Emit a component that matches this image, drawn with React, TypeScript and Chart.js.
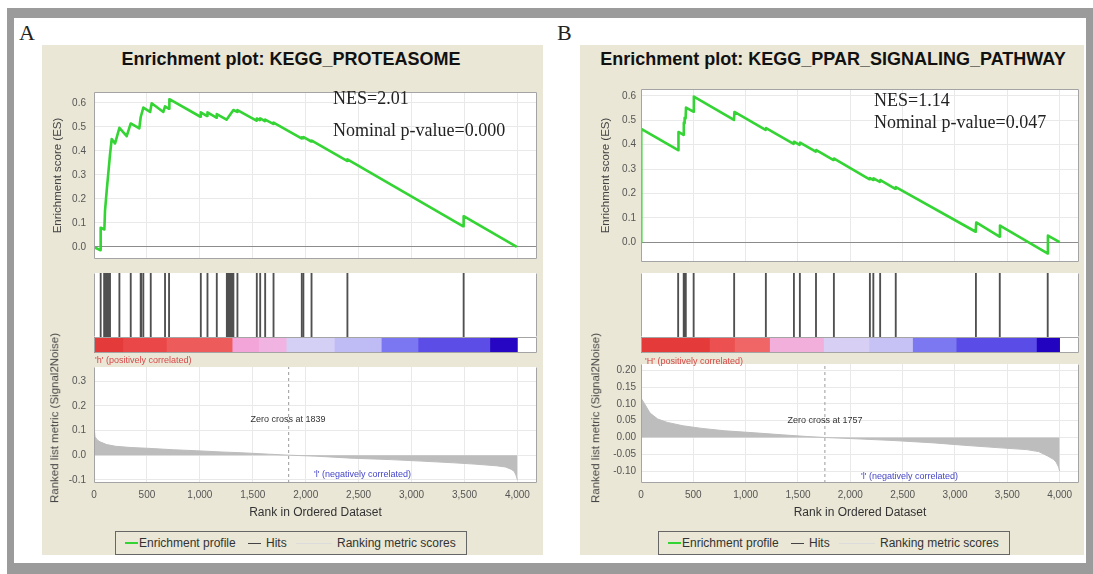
import { useEffect, useRef } from 'react';
import { Chart, registerables } from 'chart.js';

Chart.register(...registerables);

// ---------- shared axis values ----------
const RANK_MAX = 4185;
const RANK_TICKS = [0, 500, 1000, 1500, 2000, 2500, 3000, 3500, 4000];
const ES_TICKS = [0, 0.1, 0.2, 0.3, 0.4, 0.5, 0.6];

// ---------- A: KEGG_PROTEASOME ----------
const TITLE_A = 'Enrichment plot: KEGG_PROTEASOME';
const NES_A = '2.01';
const PVAL_A = '0.000';
const ZERO_CROSS_A = 1839;
const POS_LABEL_A = "'h' (positively correlated)";
const NEG_LABEL_A = "'l' (negatively correlated)";
const ES_A: [number, number][] = [
  [0, 0.0], [57, -0.013], [63, 0.08], [98, 0.073], [104, 0.15], [120, 0.235], [135, 0.306],
  [151, 0.383], [167, 0.449], [199, 0.431], [240, 0.496], [309, 0.461], [347, 0.514],
  [428, 0.494], [441, 0.54], [466, 0.58], [530, 0.562], [545, 0.598], [655, 0.562],
  [671, 0.585], [709, 0.575], [712, 0.615], [1005, 0.542], [1009, 0.56], [1068, 0.545],
  [1072, 0.56], [1156, 0.538], [1160, 0.553], [1252, 0.53], [1317, 0.57], [1352, 0.562],
  [1355, 0.57], [1535, 0.526], [1538, 0.535], [1567, 0.528], [1570, 0.535], [1614, 0.524],
  [1617, 0.53], [1693, 0.512], [1696, 0.518], [1960, 0.452], [1963, 0.456], [1977, 0.453],
  [1980, 0.457], [2053, 0.439], [2057, 0.443], [2391, 0.358], [2394, 0.365], [3488, 0.086],
  [3492, 0.128], [3994, 0.0],
];
const HITS_A = [
  63, 96, 102, 106, 110, 114, 118, 122, 126, 131, 136, 141, 146, 151, 240, 347, 441, 446, 466,
  536, 671, 709, 1009, 1072, 1160, 1255, 1262, 1270, 1278, 1286, 1294, 1302, 1310, 1317, 1355,
  1538, 1570, 1617, 1696, 1963, 1978, 2055, 2394, 3492,
];
const METRIC_A: [number, number][] = [
  [0, 0.139], [4, 0.1], [10, 0.075], [30, 0.062], [57, 0.054], [120, 0.043], [205, 0.036],
  [350, 0.031], [504, 0.028], [750, 0.022], [968, 0.018], [1200, 0.013], [1433, 0.009],
  [1650, 0.004], [1839, 0.0], [2096, -0.004], [2428, -0.012], [2800, -0.018], [3091, -0.024],
  [3400, -0.031], [3589, -0.036], [3800, -0.043], [3887, -0.048], [3940, -0.057], [3970, -0.066],
  [3987, -0.082], [4000, -0.1],
];
const METRIC_TICKS_A = [-0.1, 0, 0.1, 0.2, 0.3];
const BAND_A: [number, number, string][] = [
  [0, 280, '#e43a3a'], [280, 690, '#ea4848'], [690, 1311, '#ee5b5b'], [1311, 1560, '#f3a4d8'],
  [1560, 1822, '#f1b4e2'], [1822, 2277, '#d3cff5'], [2277, 2720, '#bfbbf5'], [2720, 3067, '#7b77f2'],
  [3067, 3745, '#5b4de6'], [3745, 4000, '#2606c2'],
];

// ---------- B: KEGG_PPAR_SIGNALING_PATHWAY ----------
const TITLE_B = 'Enrichment plot: KEGG_PPAR_SIGNALING_PATHWAY';
const NES_B = '1.14';
const PVAL_B = '0.047';
const ZERO_CROSS_B = 1757;
const POS_LABEL_B = "'H' (positively correlated)";
const NEG_LABEL_B = "'l' (negatively correlated)";
const ES_B: [number, number][] = [
  [0, 0.0], [2, 0.465], [355, 0.377], [358, 0.452], [406, 0.44], [409, 0.49], [414, 0.488],
  [417, 0.51], [426, 0.507], [430, 0.552], [500, 0.535], [505, 0.597], [888, 0.501],
  [893, 0.534], [1190, 0.46], [1195, 0.468], [1458, 0.403], [1462, 0.412], [1515, 0.399],
  [1520, 0.408], [1670, 0.371], [1675, 0.378], [1840, 0.337], [1845, 0.343], [2184, 0.258],
  [2188, 0.263], [2218, 0.255], [2222, 0.262], [2282, 0.247], [2287, 0.255], [2430, 0.219],
  [2435, 0.226], [3198, 0.043], [3203, 0.081], [3425, 0.023], [3430, 0.068], [3884, -0.046],
  [3888, 0.027], [4000, 0.0],
];
const HITS_B = [
  355, 408, 414, 428, 503, 890, 1193, 1461, 1518, 1672, 1843, 2187, 2220, 2285, 2434, 3200,
  3428, 3886,
];
const METRIC_B: [number, number][] = [
  [0, 0.145], [5, 0.115], [35, 0.1], [86, 0.073], [160, 0.055], [252, 0.045], [400, 0.035],
  [585, 0.027], [800, 0.02], [1085, 0.014], [1350, 0.008], [1585, 0.003], [1757, 0.0],
  [2000, -0.003], [2418, -0.009], [2800, -0.016], [3085, -0.023], [3400, -0.03], [3685, -0.036],
  [3800, -0.042], [3885, -0.055], [3940, -0.065], [3966, -0.073], [3990, -0.088], [4000, -0.1],
];
const METRIC_TICKS_B = [-0.1, -0.05, 0, 0.05, 0.1, 0.15, 0.2];
const BAND_B: [number, number, string][] = [
  [0, 660, '#e43a3a'], [660, 900, '#ec5050'], [900, 1235, '#f06666'], [1235, 1751, '#f3afdc'],
  [1751, 2185, '#d8cff4'], [2185, 2601, '#c6c2f6'], [2601, 3018, '#7b78f2'], [3018, 3785, '#5a4ce6'],
  [3785, 4000, '#2204c0'],
];

// ---------- styling ----------
const GREEN = '#33d433';
const GRID = '#e9e9e9';
const BEIGE = '#eae7d6';
const SANS = "'Liberation Sans', Arial, sans-serif";
const SERIF = "'Liberation Serif', 'Times New Roman', serif";
const tickFont = { font: { family: SANS, size: 10 }, color: '#555' };
const axisTitleFont = { family: SANS, size: 11.5 };

const setTicks = (vals: number[]) => (scale: any) => {
  scale.ticks = vals.map((v) => ({ value: v }));
};

// white plot background + thin grey frame on chosen sides
const plotFrame = {
  id: 'plotFrame',
  beforeDraw(chart: any) {
    const { ctx, chartArea: a } = chart;
    ctx.save();
    ctx.fillStyle = '#ffffff';
    ctx.fillRect(a.left, a.top, a.right - a.left, a.bottom - a.top);
    ctx.restore();
  },
  afterDraw(chart: any, _args: any, opts: any) {
    const { ctx, chartArea: a } = chart;
    const sides: string = (opts && opts.sides) || 'tblr';
    const l = Math.round(a.left) + 0.5;
    const r = Math.round(a.right) - 0.5;
    const t = Math.round(a.top) + 0.5;
    const b = Math.round(a.bottom) - 0.5;
    ctx.save();
    ctx.strokeStyle = '#a4a4a4';
    ctx.lineWidth = 1;
    ctx.beginPath();
    if (sides.includes('t')) { ctx.moveTo(l, t); ctx.lineTo(r, t); }
    if (sides.includes('b')) { ctx.moveTo(l, b); ctx.lineTo(r, b); }
    if (sides.includes('l')) { ctx.moveTo(l, t); ctx.lineTo(l, b); }
    if (sides.includes('r')) { ctx.moveTo(r, t); ctx.lineTo(r, b); }
    ctx.stroke();
    ctx.restore();
  },
};

const baseOptions = {
  animation: false,
  responsive: false,
  events: [],
  layout: { padding: 0 },
};

type Panel = {
  frameLeft: number;
  axisWidth: number;
  plotWidth: number;
  tickPad: number;
  esTitlePad: number;
  es: [number, number][];
  esMin: number;
  esMax: number;
  hits: number[];
  band: [number, number, string][];
  metric: [number, number][];
  metricTicks: number[];
  metricMin: number;
  metricMax: number;
  metricDecimals: number;
  zeroCross: number;
};

function esConfig(p: Panel): any {
  return {
    type: 'line',
    data: {
      datasets: [{
        data: p.es.map(([x, y]) => ({ x, y })),
        borderColor: GREEN, borderWidth: 2.6, pointRadius: 0, tension: 0, fill: false,
        borderJoinStyle: 'round',
      }],
    },
    options: {
      ...baseOptions,
      plugins: { legend: { display: false }, tooltip: { enabled: false }, plotFrame: { sides: 'tblr' } },
      scales: {
        x: {
          type: 'linear', min: 0, max: RANK_MAX, afterBuildTicks: setTicks(RANK_TICKS),
          ticks: { display: false }, grid: { color: GRID, drawTicks: false }, border: { display: false },
          afterFit: (s: any) => { s.height = 0; },
        },
        y: {
          type: 'linear', min: p.esMin, max: p.esMax, afterBuildTicks: setTicks(ES_TICKS),
          ticks: { ...tickFont, padding: p.tickPad, callback: (v: any) => Number(v).toFixed(1) },
          grid: { color: (c: any) => (c.tick && c.tick.value === 0 ? '#8c8c8c' : GRID), drawTicks: false },
          border: { display: false },
          title: { display: true, text: 'Enrichment score (ES)', font: axisTitleFont, color: '#444', padding: { top: p.esTitlePad, bottom: 0 } },
          afterFit: (s: any) => { s.width = p.axisWidth; },
        },
      },
    },
    plugins: [plotFrame],
  };
}

function hitsConfig(p: Panel): any {
  return {
    type: 'bar',
    data: {
      datasets: [{
        data: p.hits.map((x) => ({ x, y: 1 })),
        backgroundColor: '#505050', barThickness: 1.2, grouped: false,
      }],
    },
    options: {
      ...baseOptions,
      layout: { padding: { left: p.axisWidth } },
      plugins: { legend: { display: false }, tooltip: { enabled: false }, plotFrame: { sides: 'lr' } },
      scales: {
        x: { type: 'linear', min: 0, max: RANK_MAX, offset: false, display: false },
        y: { type: 'linear', min: 0, max: 1, display: false },
      },
    },
    plugins: [plotFrame],
  };
}

function bandConfig(p: Panel): any {
  return {
    type: 'bar',
    data: {
      labels: ['rank'],
      datasets: [{
        data: p.band.map(([from, to]) => ({ x: [from, to], y: 'rank' })),
        backgroundColor: p.band.map(([, , c]) => c),
        barPercentage: 1, categoryPercentage: 1, grouped: false, borderWidth: 0,
      }],
    },
    options: {
      ...baseOptions,
      indexAxis: 'y',
      layout: { padding: { left: p.axisWidth } },
      plugins: { legend: { display: false }, tooltip: { enabled: false }, plotFrame: { sides: 'tblr' } },
      scales: {
        x: { type: 'linear', min: 0, max: RANK_MAX, display: false },
        y: { type: 'category', display: false },
      },
    },
    plugins: [plotFrame],
  };
}

function metricConfig(p: Panel): any {
  return {
    type: 'line',
    data: {
      datasets: [
        {
          data: p.metric.map(([x, y]) => ({ x, y })),
          fill: 'origin', backgroundColor: '#bdbdbd', borderColor: '#bdbdbd', borderWidth: 1,
          pointRadius: 0, tension: 0,
        },
        {
          data: [{ x: p.zeroCross, y: p.metricMin }, { x: p.zeroCross, y: p.metricMax }],
          borderColor: '#9a9a9a', borderWidth: 1, borderDash: [3, 3], pointRadius: 0, fill: false,
        },
      ],
    },
    options: {
      ...baseOptions,
      plugins: { legend: { display: false }, tooltip: { enabled: false }, plotFrame: { sides: 'blr' } },
      scales: {
        x: {
          type: 'linear', min: 0, max: RANK_MAX, afterBuildTicks: setTicks(RANK_TICKS),
          ticks: { ...tickFont, padding: 6, maxRotation: 0, callback: (v: any) => Number(v).toLocaleString('en-US') },
          grid: { color: GRID, drawTicks: false }, border: { display: false },
          title: { display: true, text: 'Rank in Ordered Dataset', font: { family: SANS, size: 12 }, color: '#333', padding: { top: 0, bottom: 3 } },
          afterFit: (s: any) => { s.height = 40; },
        },
        y: {
          type: 'linear', min: p.metricMin, max: p.metricMax, afterBuildTicks: setTicks(p.metricTicks),
          ticks: { ...tickFont, padding: p.tickPad, callback: (v: any) => Number(v).toFixed(p.metricDecimals) },
          grid: { color: GRID, drawTicks: false }, border: { display: false },
          afterFit: (s: any) => { s.width = p.axisWidth; },
        },
      },
    },
    plugins: [plotFrame],
  };
}

type Box = { left: number; top: number; width: number; height: number };

function ChartCanvas({ box, build }: { box: Box; build: () => any }) {
  const ref = useRef<HTMLCanvasElement | null>(null);
  useEffect(() => {
    const chart = new Chart(ref.current as HTMLCanvasElement, build());
    return () => chart.destroy();
  }, []);
  return (
    <canvas
      ref={ref}
      width={box.width}
      height={box.height}
      style={{ position: 'absolute', left: box.left, top: box.top, width: box.width, height: box.height }}
    />
  );
}

const abs = (s: any) => ({ position: 'absolute' as const, whiteSpace: 'nowrap' as const, lineHeight: 1, ...s });

function Legend({ left }: { left: number }) {
  const txt = { fontFamily: SANS, fontSize: 12, color: '#333' };
  return (
    <div style={abs({ left, top: 531, width: 350, height: 22, border: '1px solid #666' })}>
      <div style={abs({ left: 9, top: 10, width: 13, height: 2, background: GREEN })} />
      <div style={abs({ left: 23, top: 5, ...txt })}>Enrichment profile</div>
      <div style={abs({ left: 132, top: 10.5, width: 13, height: 1.5, background: '#444' })} />
      <div style={abs({ left: 150, top: 5, ...txt })}>Hits</div>
      <div style={abs({ left: 180, top: 11, width: 36, height: 1, background: '#dcdcdc' })} />
      <div style={abs({ left: 221, top: 5, ...txt })}>Ranking metric scores</div>
    </div>
  );
}

function PanelView(props: {
  p: Panel; title: string; titleX: number; letter: string; letterX: number;
  nes: string; pval: string; statX: number; nesY: number; pvalY: number;
  posLabel: string; posX: number; posY: number; negLabel: string; negX: number; negY: number;
  zeroX: number; zeroY: number; beigeLeft: number; beigeWidth: number; legendLeft: number;
  metricTitleX: number;
}) {
  const { p } = props;
  const w = p.axisWidth + p.plotWidth;
  const small = { fontFamily: SANS, fontSize: 9 };
  return (
    <>
      <div style={abs({ left: props.beigeLeft, top: 45, width: props.beigeWidth, height: 510, background: BEIGE })} />
      <div style={abs({ left: props.letterX, top: 22, fontFamily: SERIF, fontSize: 22, color: '#222' })}>{props.letter}</div>
      <div style={abs({ left: props.titleX, top: 50, transform: 'translateX(-50%)', fontFamily: SANS, fontWeight: 'bold', fontSize: 18, color: '#111' })}>{props.title}</div>
      <ChartCanvas box={{ left: p.frameLeft, top: 78, width: w, height: 195 }} build={() => esConfig(p)} />
      <ChartCanvas box={{ left: p.frameLeft, top: 273, width: w, height: 64 }} build={() => hitsConfig(p)} />
      <ChartCanvas box={{ left: p.frameLeft, top: 337, width: w, height: 16 }} build={() => bandConfig(p)} />
      <ChartCanvas box={{ left: p.frameLeft, top: 353, width: w, height: 170 }} build={() => metricConfig(p)} />
      <div style={abs({ left: props.metricTitleX, top: 418, transform: 'translate(-50%, -50%) rotate(-90deg)', fontFamily: SANS, fontSize: 11.5, color: '#444' })}>Ranked list metric (Signal2Noise)</div>
      <div style={abs({ left: props.statX, top: props.nesY, fontFamily: SERIF, fontSize: 18, color: '#222' })}>NES={props.nes}</div>
      <div style={abs({ left: props.statX, top: props.pvalY, fontFamily: SERIF, fontSize: 18, color: '#222' })}>Nominal p-value={props.pval}</div>
      <div style={abs({ left: props.posX, top: props.posY, ...small, color: '#d84848' })}>{props.posLabel}</div>
      <div style={abs({ left: props.zeroX, top: props.zeroY, transform: 'translateX(-50%)', ...small, color: '#333' })}>Zero cross at {p.zeroCross}</div>
      <div style={abs({ left: props.negX, top: props.negY, ...small, color: '#4545c8' })}>{props.negLabel}</div>
      <Legend left={props.legendLeft} />
    </>
  );
}

const PANEL_A: Panel = {
  frameLeft: 42, axisWidth: 52, plotWidth: 443, tickPad: 8, esTitlePad: 9,
  es: ES_A, esMin: -0.05, esMax: 0.645, hits: HITS_A, band: BAND_A,
  metric: METRIC_A, metricTicks: METRIC_TICKS_A, metricMin: -0.113, metricMax: 0.358, metricDecimals: 1,
  zeroCross: ZERO_CROSS_A,
};

const PANEL_B: Panel = {
  frameLeft: 580, axisWidth: 61, plotWidth: 438, tickPad: 5, esTitlePad: 19,
  es: ES_B, esMin: -0.081, esMax: 0.628, hits: HITS_B, band: BAND_B,
  metric: METRIC_B, metricTicks: METRIC_TICKS_B, metricMin: -0.1355, metricMax: 0.219, metricDecimals: 2,
  zeroCross: ZERO_CROSS_B,
};

export default function App() {
  return (
    <div style={{ position: 'absolute', left: 0, top: 0, width: 1093, height: 574, background: '#ffffff', overflow: 'hidden' }}>
      <div style={abs({ left: 7, top: 8, width: 1086, height: 566, background: '#9b9b9b' })} />
      <div style={abs({ left: 14, top: 18, width: 1072, height: 545, background: '#ffffff' })} />
      <PanelView
        p={PANEL_A} title={TITLE_A} titleX={291} letter="A" letterX={19}
        nes={NES_A} pval={PVAL_A} statX={333} nesY={89} pvalY={121}
        posLabel={POS_LABEL_A} posX={95} posY={356} negLabel={NEG_LABEL_A} negX={314} negY={470}
        zeroX={288} zeroY={415} beigeLeft={42} beigeWidth={501} legendLeft={115} metricTitleX={55}
      />
      <PanelView
        p={PANEL_B} title={TITLE_B} titleX={833} letter="B" letterX={557}
        nes={NES_B} pval={PVAL_B} statX={874} nesY={91} pvalY={113}
        posLabel={POS_LABEL_B} posX={645} posY={357} negLabel={NEG_LABEL_B} negX={861} negY={472}
        zeroX={825} zeroY={416} beigeLeft={580} beigeWidth={504} legendLeft={658} metricTitleX={596}
      />
    </div>
  );
}
